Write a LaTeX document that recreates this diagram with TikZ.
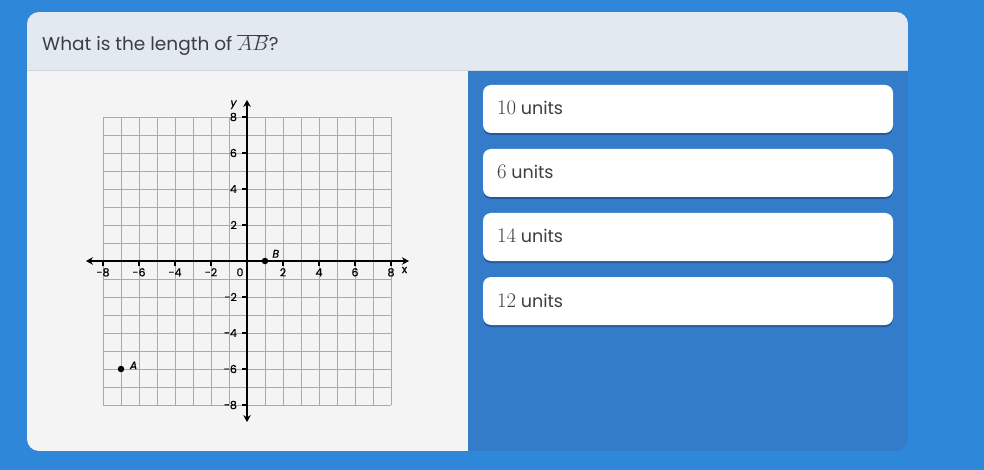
\documentclass[tikz,border=0pt]{standalone}
\usepackage{fontspec}
\setmainfont{Poppins}
\newfontfamily\tickfont[FakeBold=0.5]{Poppins}
\usetikzlibrary{arrows.meta}
\definecolor{outerblue}{RGB}{46,135,217}
\definecolor{panelblue}{RGB}{51,124,201}
\definecolor{headerc}{RGB}{226,233,241}
\definecolor{leftc}{RGB}{244,244,244}
\definecolor{sepc}{RGB}{208,214,222}
\definecolor{textc}{RGB}{62,62,66}
\definecolor{gridc}{RGB}{170,170,170}
\definecolor{shadowc}{RGB}{36,88,150}
\tikzset{
  ansbox/.style={fill=white, rounded corners=8pt, minimum width=410pt, minimum height=48pt, inner sep=0pt},
  ansshadow/.style={fill=shadowc, rounded corners=8pt, minimum width=410pt, minimum height=48pt, inner sep=0pt},
  anstext/.style={anchor=base west, text=textc, inner sep=0pt, font=\fontsize{17.5}{20}\selectfont},
  ticklab/.style={inner sep=0pt, text=black, font=\tickfont\fontsize{11}{12}\selectfont},
  ptlab/.style={inner sep=0pt, text=black, font=\tickfont\fontsize{11}{12}\selectfont\itshape},
  axisline/.style={line width=1.6pt, {Stealth[length=7pt,width=7.5pt]}-{Stealth[length=7pt,width=7.5pt]}},
  dot/.style={circle, fill=black, inner sep=0pt, minimum size=6.5pt}
}
\newcommand{\ansnum}[1]{{\fontsize{19.5}{20}\selectfont$#1$}}
\begin{document}
\begin{tikzpicture}[x=1pt,y=-1pt]
\useasboundingbox (0,0) rectangle (984,470);
\fill[outerblue] (0,0) rectangle (984,470);
% card
\begin{scope}
  \clip[rounded corners=12pt] (27,12) rectangle (908,451);
  \fill[headerc] (27,12) rectangle (908,71);
  \fill[leftc] (27,71) rectangle (468,451);
  \fill[panelblue] (468,71) rectangle (908,451);
  \draw[sepc, line width=1pt] (27,71) -- (908,71);
\end{scope}
\node[anchor=base west, inner sep=0pt, text=textc, font=\fontsize{18.5}{21}\selectfont] (question) at (42,51) {What is the length of {\fontsize{22}{24}\selectfont$\overline{AB}$}?};
% answers
\foreach \yy/\lab/\nm in {109/10/a1, 173/6/a2, 237/14/a3, 301/12/a4}{
  \node[ansshadow] (\nm s) at (688,\yy+2) {};
  \node[ansbox] (\nm) at (688,\yy) {};
  \node[anstext] (\nm t) at (497,\yy+6) {\ansnum{\lab} units};
}
% graph
\begin{scope}[shift={(247pt,-261pt)}, x=18pt, y=18pt]
  \draw[gridc, line width=0.6pt, step={(1,1)}] (-8,-8) grid (8,8);
  \coordinate (xl) at (-8.95,0);
  \coordinate (xr) at (9.0,0);
  \coordinate (yt) at (0,8.95);
  \coordinate (yb) at (0,-8.95);
  \draw[axisline] (xl) -- (xr);
  \draw[axisline] (yb) -- (yt);
  \foreach \v in {-8,-6,-4,-2,2,4,6,8}{
    \draw[line width=1.2pt] (\v,0) -- (\v,-0.3);
    \draw[line width=1.2pt] (0,\v) -- (-0.3,\v);
    \node[ticklab, anchor=base] (xt\v) at (\v,-0.85) {\v};
    \node[ticklab, anchor=east] (yt\v) at (-0.55,\v) {\v};
  }
  \node[ticklab, anchor=base] (zero) at (-0.39,-0.85) {0};
  \node[ticklab] (xlab) at (8.75,-0.5) {x};
  \node[ptlab] (ylab) at (-0.75,8.68) {y};
  \node[dot] (B) at (1,0) {};
  \node[dot] (A) at (-7,-6) {};
  \node[ptlab] (Blab) at (1.6,0.4) {B};
  \node[ptlab] (Alab) at (-6.3,-5.8) {A};
\end{scope}
\end{tikzpicture}
\end{document}
